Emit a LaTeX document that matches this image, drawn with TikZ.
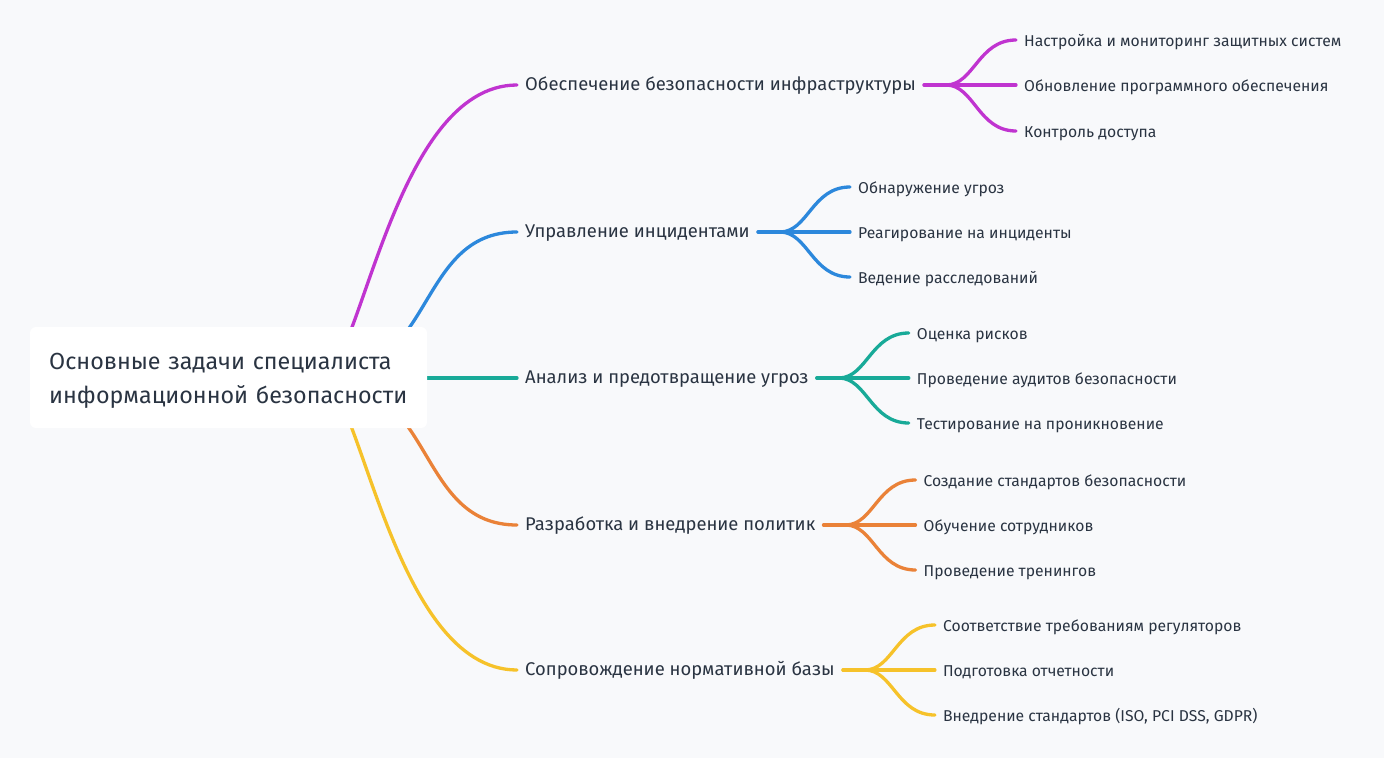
\documentclass[tikz,border=0pt]{standalone}
\usepackage{fontspec}
\setmainfont{Fira Sans}
\usetikzlibrary{positioning, calc}
\definecolor{bgcol}{RGB}{248,249,251}
\definecolor{ink}{RGB}{42,52,66}
\definecolor{brmag}{RGB}{192,52,208}
\definecolor{brblue}{RGB}{44,136,220}
\definecolor{brteal}{RGB}{24,170,152}
\definecolor{brorange}{RGB}{234,130,56}
\definecolor{bryellow}{RGB}{246,194,42}

\tikzset{
  branch/.style={anchor=west, inner xsep=8pt, inner ysep=2pt, text height=1.2em, text depth=0.1em,
    text=ink, font=\fontsize{18.4}{22}\selectfont},
  leaf/.style={anchor=west, inner xsep=8pt, inner ysep=1pt, text height=1.3em, text depth=0.1em,
    text=ink, font=\fontsize{15.7}{18}\selectfont},
  link/.style={line width=3.3pt, line cap=round},
  rootbox/.style={anchor=west, inner xsep=0pt, text width=372pt, align=left, text=ink,
    font=\fontsize{23.3}{34}\selectfont},
}

\begin{document}
\begin{tikzpicture}[x=1pt, y=-1pt]
  \fill[bgcol] (0,0) rectangle (1384,758);

  % Branches
  \coordinate (hub) at (320,378);
  \node[branch] (b1) at (517,85) {Обеспечение безопасности инфраструктуры};
  \node[branch] (b2) at (517,232) {Управление инцидентами};
  \node[branch] (b3) at (517,378) {Анализ и предотвращение угроз};
  \node[branch] (b4) at (517,525) {Разработка и внедрение политик};
  \node[branch] (b5) at (517,670) {Сопровождение нормативной базы};

  \draw[link, brmag] (hub) .. controls +(40,0) and +(-125,0) .. (b1.west);
  \draw[link, brblue] (hub) .. controls +(116,0) and +(-102,0) .. (b2.west);
  \draw[link, brteal] (hub) -- (b3.west);
  \draw[link, brorange] (hub) .. controls +(116,0) and +(-102,0) .. (b4.west);
  \draw[link, bryellow] (hub) .. controls +(40,0) and +(-125,0) .. (b5.west);

  % Root
  \fill[white, rounded corners=6pt] (30,327) rectangle (427,428);
  \node[rootbox] (root) at (49,381) {Основные задачи специалиста\\информационной безопасности};

  % Leaves of b1
  \node[leaf] (c11) at ([shift={(92,-45)}]b1.east) {Настройка и мониторинг защитных систем};
  \node[leaf] (c12) at ([shift={(92,0)}]b1.east) {Обновление программного обеспечения};
  \node[leaf] (c13) at ([shift={(92,46)}]b1.east) {Контроль доступа};
  % Leaves of b2
  \node[leaf] (c21) at ([shift={(92,-45)}]b2.east) {Обнаружение угроз};
  \node[leaf] (c22) at ([shift={(92,0)}]b2.east) {Реагирование на инциденты};
  \node[leaf] (c23) at ([shift={(92,45)}]b2.east) {Ведение расследований};
  % Leaves of b3
  \node[leaf] (c31) at ([shift={(92,-45)}]b3.east) {Оценка рисков};
  \node[leaf] (c32) at ([shift={(92,0)}]b3.east) {Проведение аудитов безопасности};
  \node[leaf] (c33) at ([shift={(92,45)}]b3.east) {Тестирование на проникновение};
  % Leaves of b4
  \node[leaf] (c41) at ([shift={(92,-45)}]b4.east) {Создание стандартов безопасности};
  \node[leaf] (c42) at ([shift={(92,0)}]b4.east) {Обучение сотрудников};
  \node[leaf] (c43) at ([shift={(92,45)}]b4.east) {Проведение тренингов};
  % Leaves of b5
  \node[leaf] (c51) at ([shift={(92,-45)}]b5.east) {Соответствие требованиям регуляторов};
  \node[leaf] (c52) at ([shift={(92,0)}]b5.east) {Подготовка отчетности};
  \node[leaf] (c53) at ([shift={(92,45)}]b5.east) {Внедрение стандартов (ISO, PCI DSS, GDPR)};

  % Sub-links
  \foreach \b/\col in {1/brmag, 2/brblue, 3/brteal, 4/brorange, 5/bryellow} {
    \draw[link, \col] (b\b.east) -- ++(22,0) .. controls +(28,0) and +(-38,0) .. (c\b1.west);
    \draw[link, \col] (b\b.east) -- (c\b2.west);
    \draw[link, \col] (b\b.east) ++(22,0) .. controls +(28,0) and +(-38,0) .. (c\b3.west);
  }
\end{tikzpicture}
\end{document}
